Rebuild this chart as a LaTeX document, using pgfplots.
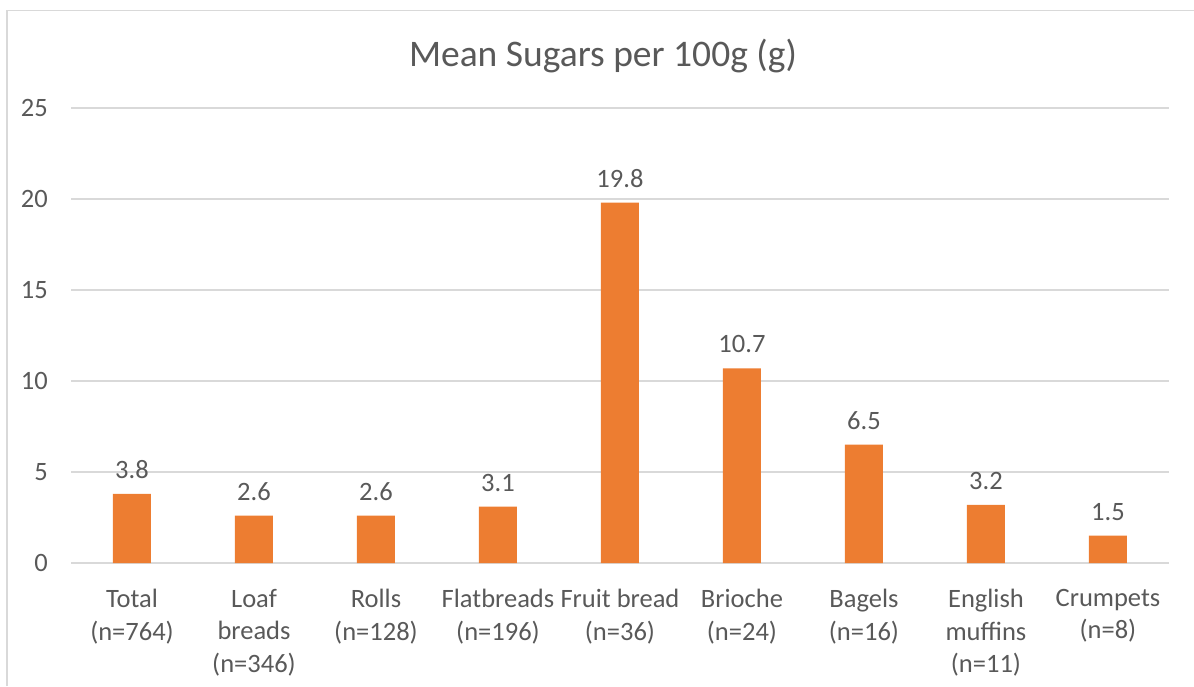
\documentclass[border=0pt]{standalone}
\usepackage{fontspec}
\setmainfont{Carlito}
\usepackage{pgfplots}
\pgfplotsset{compat=1.18}

\definecolor{barorange}{HTML}{ED7D31}
\definecolor{gridgray}{HTML}{D9D9D9}
\definecolor{textgray}{HTML}{595959}

\begin{document}
\begin{tikzpicture}
\useasboundingbox (0,0) rectangle (1194pt,686pt);
% chart frame
\draw[gridgray, line width=1.5pt] (7pt,0pt) -- (7pt,675.5pt) -- (1194pt,675.5pt);
% title
\node[anchor=base, text=textgray, inner sep=0pt, font=\fontsize{37.5}{43}\selectfont]
  at (603pt,619pt) {Mean Sugars per 100g (g)};
\begin{axis}[
  at={(71pt,123pt)}, anchor=south west,
  scale only axis, width=1098pt, height=455pt,
  ymin=0, ymax=25, ytick={0,5,10,15,20,25},
  xmin=-0.5, xmax=8.5,
  xtick={0,1,2,3,4,5,6,7,8},
  xticklabels={{Total\\(n=764)},{Loaf\\breads\\(n=346)},{Rolls\\(n=128)},{Flatbreads\\(n=196)},{Fruit bread\\(n=36)},{Brioche\\(n=24)},{Bagels\\(n=16)},{English\\muffins\\(n=11)},{Crumpets\\(n=8)}},
  axis line style={draw=none},
  major tick length=0pt,
  ymajorgrids, grid style={gridgray, line width=1.4pt},
  /pgf/number format/assume math mode=true,
  yticklabel style={font=\fontsize{26.5}{30}\selectfont, text=textgray, inner sep=0pt, anchor=east, xshift=-23pt},
  xticklabel style={font=\fontsize{26.5}{32.5}\selectfont, text=textgray, align=center, inner sep=0pt, anchor=north, yshift=-26pt},
  nodes near coords,
  every node near coord/.append style={font=\fontsize{26.5}{30}\selectfont, text=textgray, inner sep=0pt, anchor=south, yshift=15pt,
    /pgf/number format/.cd, fixed, precision=1, fixed zerofill},
  clip=false,
]
\addplot[ybar, bar width=38pt, fill=barorange, draw=none] coordinates {
  (0,3.8) (1,2.6) (2,2.6) (3,3.1) (4,19.8) (5,10.7) (6,6.5) (7,3.2) (8,1.5)
};
\end{axis}
\end{tikzpicture}
\end{document}
